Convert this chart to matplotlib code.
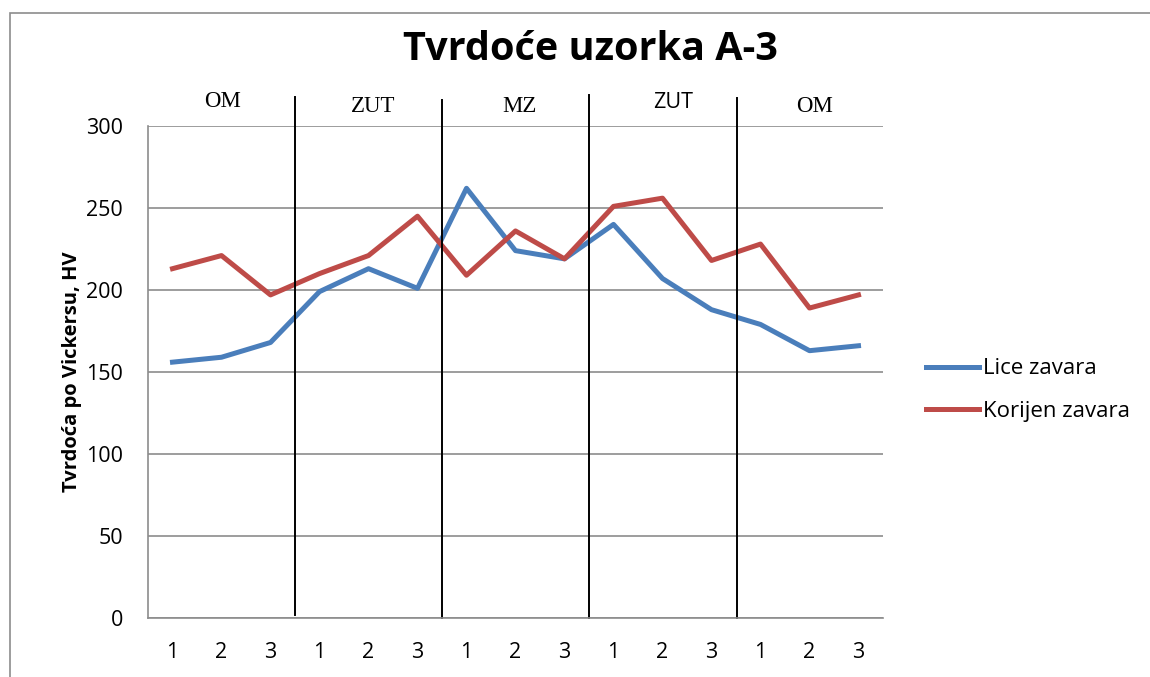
import matplotlib
matplotlib.use("Agg")
from matplotlib import pyplot as plt
from matplotlib.patches import Rectangle
import matplotlib.transforms as mtransforms

# measurement positions inside each zone
positions = ["1", "2", "3"] * 5
zones = ["OM", "ZUT", "MZ", "ZUT", "OM"]

lice_zavara = [156, 159, 168, 199, 213, 201, 262, 224, 219, 240, 207, 188, 179, 163, 166]
korijen_zavara = [213, 221, 197, 210, 221, 245, 209, 236, 219, 251, 256, 218, 228, 189, 197]

blue = "#4A7EBB"
red = "#BE4B48"

plt.rcParams['font.family'] = ['Open Sans', 'DejaVu Sans']

fig = plt.figure(figsize=(11.5, 6.77), dpi=100)
ax = fig.add_axes([148 / 1150, 59 / 677, 735 / 1150, 492 / 677])

x = list(range(len(positions)))
ax.plot(x, lice_zavara, color=blue, linewidth=3.6, label="Lice zavara", solid_joinstyle="round")
ax.plot(x, korijen_zavara, color=red, linewidth=3.6, label="Korijen zavara", solid_joinstyle="round")

ax.set_xlim(-0.5, len(positions) - 0.5)
ax.set_ylim(0, 300)
ax.set_yticks(range(0, 301, 50))
ax.set_xticks(x)
ax.set_xticklabels(positions)
ax.tick_params(axis="both", length=0, labelsize=15.5)
ax.tick_params(axis="x", pad=17)
ax.tick_params(axis="y", pad=18)
ax.yaxis.grid(True, color="#8c8c8c", linewidth=1.2)
ax.set_axisbelow(True)
for side in ["top", "right"]:
    ax.spines[side].set_visible(False)
for side in ["left", "bottom"]:
    ax.spines[side].set_color("#8c8c8c")
    ax.spines[side].set_linewidth(1.2)

ax.set_ylabel("Tvrdoća po Vickersu, HV", fontsize=14.5, fontweight="bold", labelpad=3)

# zone separators, drawn a bit past the top of the plot area
trans = mtransforms.blended_transform_factory(ax.transData, ax.transAxes)
sep_x = [2.51, 5.51, 8.49, 11.53]
sep_y = [(0.006, 1.059), (0.0, 1.053), (0.0, 1.063), (0.0, 1.057)]
for sx, (y0, y1) in zip(sep_x, sep_y):
    ax.plot([sx, sx], [y0, y1], color="black", linewidth=1.4, transform=trans, clip_on=False)

# zone names above the plot
zone_x = [1.03, 4.1, 7.08, 10.21, 13.1]
zone_y = [1.0386, 1.0285, 1.0285, 1.0366, 1.0285]
for i, (name, zx, zy) in enumerate(zip(zones, zone_x, zone_y)):
    if i == 3:
        ax.text(zx, zy, name, transform=trans, ha="center", va="baseline", fontsize=15.5,
                family=["Open Sans", "DejaVu Sans"])
    else:
        ax.text(zx, zy, name, transform=trans, ha="center", va="baseline", fontsize=16.5,
                family=["Liberation Serif", "DejaVu Serif"])

fig.text(590 / 1150, 1 - 50 / 677, "Tvrdoće uzorka A-3", ha="center", va="center",
         fontsize=28.5, fontweight="bold")

fig.legend(loc="center left", bbox_to_anchor=(906 / 1150, 1 - 390 / 677), frameon=False,
           fontsize=16, handlelength=2.4, handletextpad=0.15, labelspacing=0.95)

# outer chart frame
fig.patches.append(Rectangle((10 / 1150, -0.1), 1.2, 1 - 13 / 677 + 0.1, transform=fig.transFigure,
                             fill=False, edgecolor="#8c8c8c", linewidth=1.2))

fig.savefig("out.png", dpi=100)
